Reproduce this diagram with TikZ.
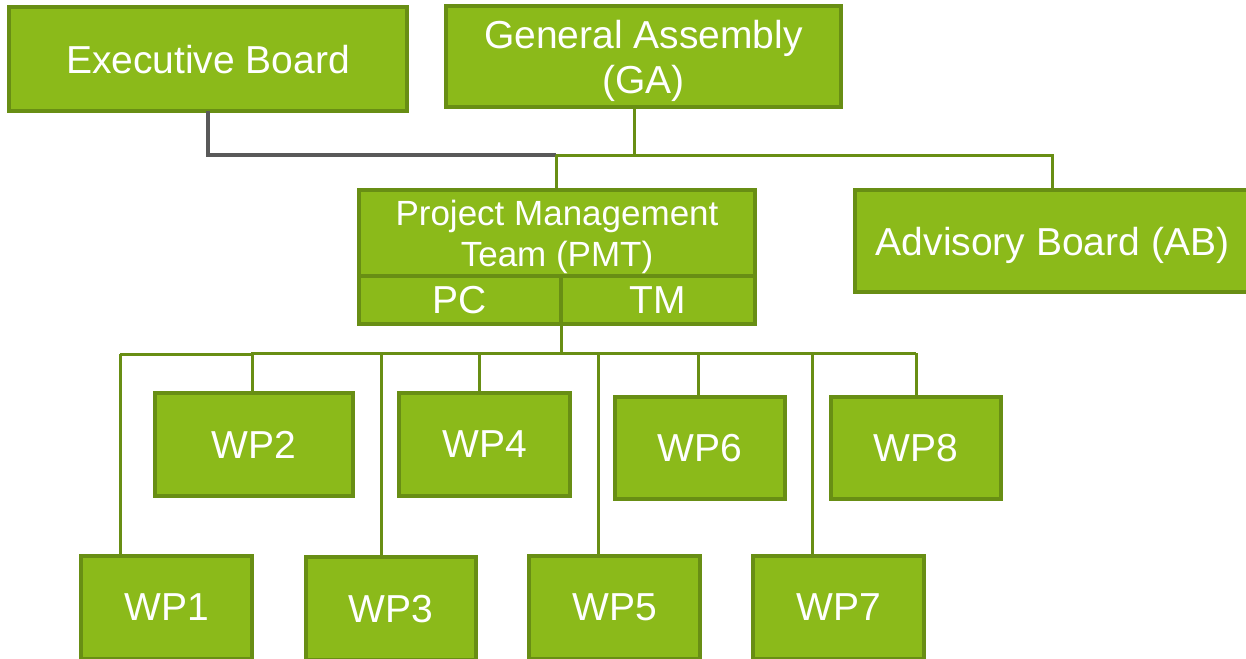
\documentclass[tikz,border=0pt]{standalone}
\usepackage{fontspec}
\setmainfont{Liberation Sans}
\begin{document}
\definecolor{leaf}{RGB}{139,186,26}
\definecolor{leafedge}{RGB}{104,142,20}
\definecolor{linkgray}{RGB}{89,89,89}
\begin{tikzpicture}[x=1pt,y=-1pt,
  box/.style={draw=leafedge, fill=leaf, line width=3.5pt, text=white,
    inner sep=0pt, outer sep=0pt, align=center, text depth=0pt,
    font=\fontsize{39}{45}\selectfont},
  smalltext/.style={font=\fontsize{35}{41}\selectfont},
  link/.style={draw=leafedge, line width=3pt},
  graylink/.style={draw=linkgray, line width=3.5pt}]
\useasboundingbox (0,0) rectangle (1246,658);

% governance level
\node[box, minimum width=398pt, minimum height=104pt] (eb) at (208,59) {Executive Board};
\node[box, minimum width=395pt, minimum height=101pt] (ga) at (643.5,56.5) {General Assembly\\(GA)};
\node[box, minimum width=395pt, minimum height=102pt] (ab) at (1052.5,241) {Advisory Board (AB)};

% project management team with its two cells
\node[box, smalltext, minimum width=396pt, minimum height=86pt] (pmt) at (557,233) {Project Management\\Team (PMT)};
\node[box, minimum width=202pt, minimum height=48pt] (pc) at (460,300) {PC};
\node[box, minimum width=194pt, minimum height=48pt] (tm) at (658,300) {TM};

% work packages, upper row
\node[box, minimum width=198pt, minimum height=103pt] (wp2) at (254,444.5) {WP2};
\node[box, minimum width=171pt, minimum height=103pt] (wp4) at (484.5,444.5) {WP4};
\node[box, minimum width=170pt, minimum height=102pt] (wp6) at (700,448) {WP6};
\node[box, minimum width=170pt, minimum height=102pt] (wp8) at (916,448) {WP8};

% work packages, lower row
\node[box, minimum width=171pt, minimum height=103pt] (wp1) at (166.5,607.5) {WP1};
\node[box, minimum width=170pt, minimum height=103pt] (wp3) at (391,608.5) {WP3};
\node[box, minimum width=171pt, minimum height=103pt] (wp5) at (614.5,607.5) {WP5};
\node[box, minimum width=171pt, minimum height=103pt] (wp7) at (838.5,607.5) {WP7};

% junction points
\coordinate (jn) at (556,155);
\coordinate (gadrop) at (634,155);
\coordinate (abdrop) at (1052,155);
\coordinate (pmtout) at (561,353);
\coordinate (busL) at (120,354);
\coordinate (busM) at (252,353);
\coordinate (busR) at (916,353);
\coordinate (d2) at (252,353);
\coordinate (d3) at (381,353);
\coordinate (d4) at (479,353);
\coordinate (d5) at (598,353);
\coordinate (d6) at (698,353);
\coordinate (d7) at (812,353);

% upper connectors
\draw[graylink] (eb.south) |- (jn);
\draw[link] (ga.south -| gadrop) -- (gadrop);
\draw[link] (jn) -- (abdrop) -- (ab.north -| abdrop);
\draw[link] (jn) -- (jn |- pmt.north);

% work package bus
\draw[link] (pc.south east) -- (pmtout);
\draw[link] (busL) -- (busL -| busM) -- (busM) -- (busR);
\draw[link] (busL) -- (busL |- wp1.north);
\draw[link] (d2) -- (d2 |- wp2.north);
\draw[link] (d3) -- (d3 |- wp3.north);
\draw[link] (d4) -- (d4 |- wp4.north);
\draw[link] (d5) -- (d5 |- wp5.north);
\draw[link] (d6) -- (d6 |- wp6.north);
\draw[link] (d7) -- (d7 |- wp7.north);
\draw[link] (busR) -- (busR |- wp8.north);
\end{tikzpicture}
\end{document}
